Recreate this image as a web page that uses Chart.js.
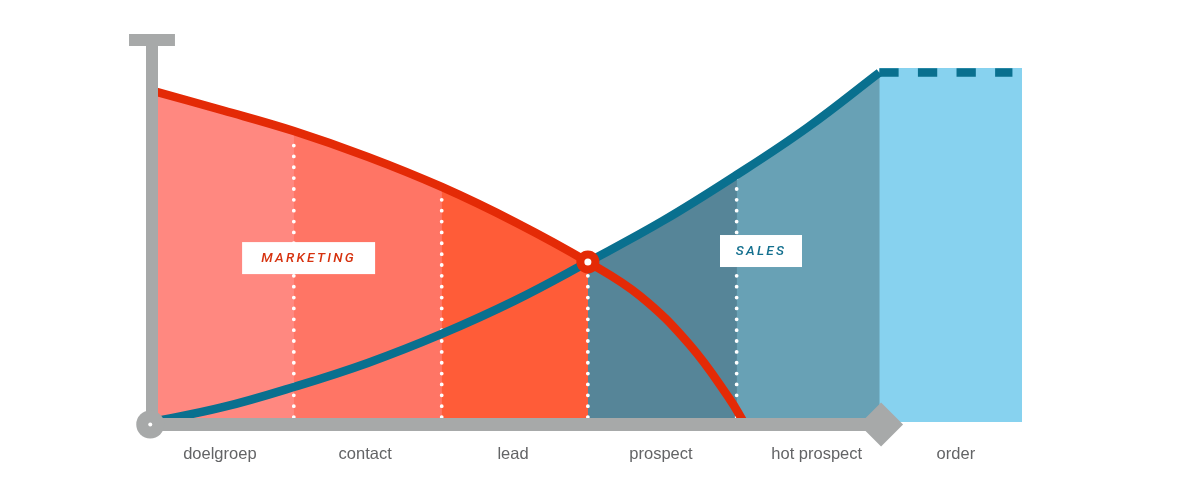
<!DOCTYPE html>
<html>
<head>
<meta charset="utf-8">
<title>Marketing en sales funnel</title>
<script src="https://cdn.jsdelivr.net/npm/chart.js@4"></script>
<style>
  html, body { margin: 0; padding: 0; background: #fff; }
  canvas { display: block; }
</style>
</head>
<body>
<canvas id="funnelChart" width="1200" height="482"></canvas>
<script>
// x runs 0-100 over the whole funnel, y runs 0-100 over the height of the area
const stages = ['doelgroep', 'contact', 'lead', 'prospect', 'hot prospect', 'order'];
const stageCentres = [7.8, 24.5, 41.5, 58.5, 76.4, 92.4];
const stageStops = [0, 16.3, 33.3, 50.1, 67.2, 83.6, 100];

const marketingX = [0, 8.2, 16.3, 24.8, 33.3, 41.7, 50.1, 56.1, 61.8, 66.4, 68];
const marketingY = [93.6, 88, 82.2, 74.9, 66.4, 56.5, 45.2, 35.6, 21.8, 6.5, 0];
const salesX = [0, 8, 16.3, 24.8, 33.3, 41.7, 50.1, 58.7, 67.2, 75.4, 83.6];
const salesY = [0, 4.1, 9.9, 16.7, 24.9, 34.3, 45.2, 56.8, 69.8, 83.3, 98.7];
const orderX = [83.6, 98.9];
const orderY = [98.7, 98.7];
const orderTop = 100;

const dotTops = [80.8, 66, 41.5, 69.5];
const bandColours = ['#ff8880', '#ff7565', '#ff5c38', '#568598', '#68a1b5'];

const RED = '#e42a06';
const BLUE = '#09708f';
const GREY = '#a7a9a9';

function toPoints(xs, ys) {
  return xs.map((x, i) => ({ x: x, y: ys[i] }));
}

const marketingPoints = toPoints(marketingX, marketingY);
const salesPoints = toPoints(salesX, salesY);
const orderPoints = toPoints(orderX, orderY);

function line(data, color, width, extra) {
  return Object.assign({
    data: data,
    borderColor: color,
    borderWidth: width,
    pointRadius: 0,
    fill: false,
    clip: false,
    tension: 0
  }, extra);
}

function marker(x, y, color, style, radius) {
  return {
    data: [{ x: x, y: y }],
    showLine: false,
    pointStyle: style,
    pointRadius: radius,
    pointBackgroundColor: color,
    pointBorderWidth: 0,
    clip: false
  };
}

// listed from back to front
const layers = [];

// each band runs on under the next one so no seam shows between them
bandColours.forEach((colour, i) => {
  const source = i < 3 ? marketingPoints : salesPoints.concat(orderPoints.slice(1));
  layers.push(line(source.filter(p => p.x >= stageStops[i]), 'transparent', 0, {
    fill: 'origin',
    backgroundColor: colour
  }));
});
layers.push(line([{ x: stageStops[5], y: orderTop }, { x: stageStops[6], y: orderTop }], 'transparent', 0, {
  fill: 'origin',
  backgroundColor: '#87d2ef'
}));

dotTops.forEach((top, i) => {
  layers.push(line([{ x: stageStops[i + 1], y: 1.4 }, { x: stageStops[i + 1], y: top }], '#fff', 3.8, {
    borderDash: [0.01, 10.85],
    borderCapStyle: 'round'
  }));
});

layers.push(line(salesPoints, BLUE, 8.5, { tension: 0.4 }));
layers.push(line(orderPoints, BLUE, 8.5, { borderDash: [19.3, 19.3] }));
layers.push(line(marketingPoints, RED, 8.5, { tension: 0.4 }));

// axes
layers.push(line([{ x: 0, y: -0.7 }, { x: 0, y: 106.2 }], GREY, 12));
layers.push(line([{ x: -2.64, y: 107.9 }, { x: 2.64, y: 107.9 }], GREY, 12));
layers.push(line([{ x: 0, y: -0.7 }, { x: 83.8, y: -0.7 }], GREY, 13));
layers.push(marker(-0.2, -0.7, GREY, 'circle', 14));
layers.push(marker(-0.2, -0.7, '#fff', 'circle', 2));
layers.push(marker(83.8, -0.7, GREY, 'rectRot', 22));

// where the two curves cross
layers.push(marker(50.1, 45.2, RED, 'circle', 11.5));
layers.push(marker(50.1, 45.2, '#fff', 'circle', 3.5));

// chart.js paints the first dataset on top
layers.forEach((layer, i) => { layer.order = layers.length - i; });

const boxLabels = {
  id: 'boxLabels',
  afterDatasetsDraw(chart) {
    const { ctx, scales } = chart;
    const draw = (text, x, y, w, h, color) => {
      const px = scales.x.getPixelForValue(x);
      const py = scales.y.getPixelForValue(y);
      ctx.save();
      ctx.fillStyle = '#fff';
      ctx.fillRect(px - w / 2, py - h / 2, w, h);
      ctx.fillStyle = color;
      ctx.font = 'italic 500 13.5px Roboto';
      ctx.letterSpacing = '2.3px';
      ctx.textAlign = 'center';
      ctx.textBaseline = 'middle';
      ctx.fillText(text, px, py + 0.5);
      ctx.restore();
    };
    draw('MARKETING', 18, 46.3, 133, 32, '#d6320f');
    draw('SALES', 70, 48.3, 82, 32, '#136f8e');
  }
};

new Chart(document.getElementById('funnelChart').getContext('2d'), {
  type: 'line',
  data: { datasets: layers },
  plugins: [boxLabels],
  options: {
    responsive: false,
    animation: false,
    events: [],
    layout: { padding: { left: 152, right: 178, top: 68, bottom: 0 } },
    plugins: {
      legend: { display: false },
      tooltip: { enabled: false }
    },
    scales: {
      x: {
        type: 'linear',
        min: 0,
        max: 100,
        grid: { display: false, drawTicks: false },
        border: { display: false },
        afterFit: axis => { axis.height = 60; },
        afterBuildTicks: axis => { axis.ticks = stageCentres.map(v => ({ value: v })); },
        ticks: {
          autoSkip: false,
          maxRotation: 0,
          padding: 23,
          color: '#636466',
          font: { family: '"Liberation Sans"', size: 16.5 },
          callback: (value, i) => stages[i]
        }
      },
      y: { type: 'linear', min: 0, max: 100, display: false }
    }
  }
});
</script>
</body>
</html>
